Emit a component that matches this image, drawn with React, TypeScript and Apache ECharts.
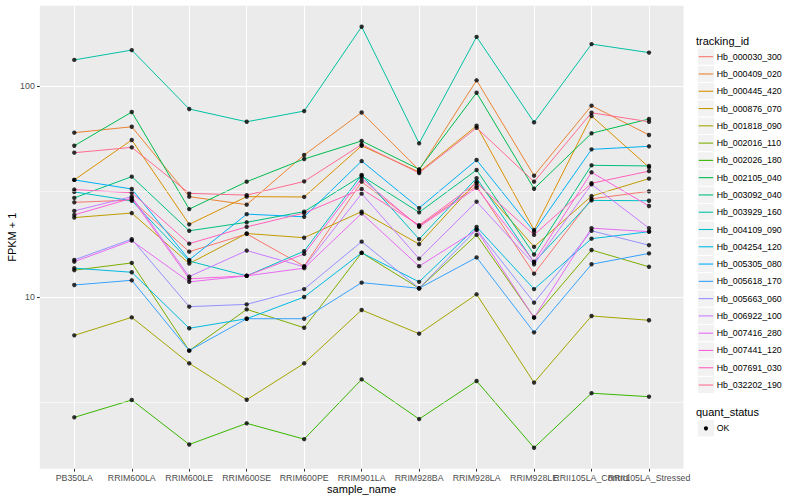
import React, { useEffect, useRef } from "react";
import * as echarts from "echarts";

const sampleNames = [
  "PB350LA", "RRIM600LA", "RRIM600LE", "RRIM600SE", "RRIM600PE", "RRIM901LA",
  "RRIM928BA", "RRIM928LA", "RRIM928LE", "RRII105LA_Control", "RRII105LA_Stressed",
];

const trackingIds = [
  "Hb_000030_300", "Hb_000409_020", "Hb_000445_420", "Hb_000876_070", "Hb_001818_090",
  "Hb_002016_110", "Hb_002026_180", "Hb_002105_040", "Hb_003092_040", "Hb_003929_160",
  "Hb_004109_090", "Hb_004254_120", "Hb_005305_080", "Hb_005618_170", "Hb_005663_060",
  "Hb_006922_100", "Hb_007416_280", "Hb_007441_120", "Hb_007691_030", "Hb_032202_190",
];

const lineColors = [
  "#F8766D", "#EA8331", "#D89000", "#C09B00", "#A3A500", "#7CAE00", "#39B600", "#00BB4E",
  "#00BF7D", "#00C1A3", "#00BFC4", "#00BAE0", "#00B0F6", "#35A2FF", "#9590FF", "#C77CFF",
  "#E76BF3", "#FA62DB", "#FF62BC", "#FF6C91",
];

// FPKM + 1 per sample, in the order of sampleNames
const hb000030_300 = [28.1, 28.8, 16.4, 19.9, 14.0, 35.2, 21.7, 33.6, 12.9, 29.2, 31.7];
const hb000409_020 = [60.1, 64.1, 29.9, 27.4, 47.1, 74.9, 40.0, 106.4, 37.6, 80.7, 58.6];
const hb000445_420 = [35.9, 55.5, 22.1, 29.9, 29.8, 52.1, 39.1, 64.8, 20.8, 72.1, 41.2];
const hb000876_070 = [23.8, 25.0, 14.4, 20.0, 19.1, 25.4, 17.8, 35.2, 17.3, 30.1, 36.4];
const hb001818_090 = [6.58, 8.01, 4.85, 3.26, 4.85, 8.68, 6.7, 10.3, 3.93, 8.13, 7.76];
const hb002016_110 = [13.4, 14.5, 5.57, 8.74, 7.15, 16.2, 11.0, 19.7, 8.0, 16.7, 13.9];
const hb002026_180 = [2.69, 3.25, 2.0, 2.52, 2.12, 4.07, 2.64, 4.0, 1.93, 3.5, 3.37];
const hb002105_040 = [52.1, 75.3, 26.1, 35.2, 45.1, 54.9, 40.3, 92.9, 32.6, 59.7, 69.8];
const hb003092_040 = [29.5, 37.2, 20.6, 22.6, 25.4, 37.5, 25.2, 40.0, 15.9, 42.1, 41.8];
const hb003929_160 = [133, 148, 77.8, 67.7, 76.1, 191, 53.5, 171, 67.3, 158, 144];
const hb004109_090 = [31.5, 28.6, 14.8, 12.6, 16.5, 37.9, 18.8, 36.6, 14.6, 28.7, 28.6];
const hb004254_120 = [13.7, 13.1, 7.11, 7.89, 10.0, 16.2, 11.8, 21.5, 10.9, 18.9, 20.4];
const hb005305_080 = [35.9, 32.5, 15.0, 24.7, 24.0, 44.1, 26.4, 44.6, 20.4, 50.1, 51.8];
const hb005618_170 = [11.4, 12.0, 5.57, 7.89, 7.89, 11.7, 11.0, 15.4, 6.8, 14.3, 16.1];
const hb005663_060 = [15.0, 18.8, 9.0, 9.23, 10.9, 18.3, 11.0, 20.9, 9.4, 20.6, 17.6];
const hb006922_100 = [25.6, 29.9, 12.5, 16.6, 13.9, 30.9, 15.2, 28.3, 14.3, 34.2, 21.2];
const hb007416_280 = [14.7, 18.5, 11.8, 12.6, 13.7, 24.9, 14.0, 20.8, 7.98, 21.2, 20.4];
const hb007441_120 = [24.5, 29.4, 12.2, 12.6, 16.0, 36.5, 21.5, 32.9, 14.7, 39.0, 27.0];
const hb007691_030 = [32.3, 31.2, 17.9, 21.5, 25.0, 32.5, 21.9, 34.7, 19.7, 34.6, 39.5];
const hb032202_190 = [48.3, 51.2, 31.0, 30.4, 35.3, 52.8, 38.7, 63.4, 35.2, 74.7, 67.7];

const seriesValues = [
  hb000030_300, hb000409_020, hb000445_420, hb000876_070, hb001818_090,
  hb002016_110, hb002026_180, hb002105_040, hb003092_040, hb003929_160,
  hb004109_090, hb004254_120, hb005305_080, hb005618_170, hb005663_060,
  hb006922_100, hb007416_280, hb007441_120, hb007691_030, hb032202_190,
];

const quantStatus = ["OK"];
const yMajorBreaks = [10, 100];
const yMinorBreaks = [3.1623, 31.623];

const FONT = "'Liberation Sans', Arial, Helvetica, sans-serif";

export default function App() {
  const ref = useRef<HTMLDivElement>(null);

  useEffect(() => {
    if (!ref.current) return;
    const chart = echarts.init(ref.current, null, { renderer: "svg" });

    const panelLeft = 39.8;
    const panelTop = 5.65;
    const panelWidth = 643.7;
    const panelHeight = 463.15;

    const allIdx = sampleNames.map((_, i) => i);
    const evenIdx = allIdx.filter((i) => i % 2 === 0);
    const oddIdx = allIdx.filter((i) => i % 2 === 1);

    const lineSeries: any[] = trackingIds.map((id, k) => ({
      type: "line",
      name: id,
      xAxisIndex: 0,
      data: seriesValues[k].map((v, i) => [i, v]),
      showSymbol: false,
      symbol: "none",
      lineStyle: { color: lineColors[k], width: 1 },
      itemStyle: { color: lineColors[k] },
      z: 2,
      silent: true,
    }));

    const pointData: number[][] = [];
    seriesValues.forEach((vals) => vals.forEach((v, i) => pointData.push([i, v])));

    const legendItems: any[] = [];
    const keyX = 697.3;
    const keySize = 17.28;
    const keyTop0 = 48.06;
    legendItems.push({
      type: "text",
      x: 696,
      y: 40.7,
      style: { text: "tracking_id", fontSize: 11, fontFamily: FONT, fill: "#000000", align: "left", verticalAlign: "middle" },
    });
    trackingIds.forEach((id, k) => {
      const top = keyTop0 + k * keySize;
      legendItems.push({
        type: "rect",
        shape: { x: keyX, y: top, width: keySize, height: keySize },
        style: { fill: "#F2F2F2", stroke: "#FFFFFF", lineWidth: 1 },
      });
      legendItems.push({
        type: "line",
        shape: { x1: keyX + 1.4, y1: top + keySize / 2, x2: keyX + keySize - 1.4, y2: top + keySize / 2 },
        style: { stroke: lineColors[k], lineWidth: 1.1 },
      });
      legendItems.push({
        type: "text",
        x: 716.7,
        y: top + keySize / 2,
        style: { text: id, fontSize: 8.8, fontFamily: FONT, fill: "#000000", align: "left", verticalAlign: "middle" },
      });
    });
    legendItems.push({
      type: "text",
      x: 696,
      y: 412.3,
      style: { text: "quant_status", fontSize: 11, fontFamily: FONT, fill: "#000000", align: "left", verticalAlign: "middle" },
    });
    quantStatus.forEach((q, k) => {
      const top = 419.7 + k * keySize;
      legendItems.push({
        type: "rect",
        shape: { x: keyX, y: top, width: keySize, height: keySize },
        style: { fill: "#F2F2F2", stroke: "#FFFFFF", lineWidth: 1 },
      });
      legendItems.push({
        type: "circle",
        shape: { cx: keyX + keySize / 2, cy: top + keySize / 2, r: 2.1 },
        style: { fill: "#000000" },
      });
      legendItems.push({
        type: "text",
        x: 716.7,
        y: top + keySize / 2,
        style: { text: q, fontSize: 8.8, fontFamily: FONT, fill: "#000000", align: "left", verticalAlign: "middle" },
      });
    });

    const labelStyle = {
      formatter: (v: number) => sampleNames[Math.round(v)] ?? "",
      color: "#4D4D4D",
      fontSize: 8.8,
      fontFamily: FONT,
      margin: 5,
      hideOverlap: false,
    };

    const option: any = {
      animation: false,
      backgroundColor: "#FFFFFF",
      textStyle: { fontFamily: FONT },
      grid: {
        left: panelLeft,
        top: panelTop,
        width: panelWidth,
        height: panelHeight,
        show: true,
        backgroundColor: "#EBEBEB",
        borderWidth: 0,
        containLabel: false,
        outerBoundsMode: "none",
      },
      xAxis: [
        {
          type: "value",
          position: "bottom",
          min: -0.6,
          max: 10.6,
          axisLine: { show: false, onZero: false },
          axisTick: {
            show: true,
            length: 2.75,
            lineStyle: { color: "#333333", width: 1 },
            customValues: allIdx,
          },
          axisLabel: { ...labelStyle, customValues: evenIdx },
          splitLine: { show: true, lineStyle: { color: "#FFFFFF", width: 1.1 } },
          name: "sample_name",
          nameLocation: "middle",
          nameGap: 15,
          nameMoveOverlap: false,
          nameTextStyle: { fontSize: 11, color: "#000000", fontFamily: FONT },
        },
        {
          type: "value",
          position: "bottom",
          offset: 0,
          min: -0.6,
          max: 10.6,
          axisLine: { show: false, onZero: false },
          axisTick: { show: false, customValues: oddIdx },
          axisLabel: { ...labelStyle, customValues: oddIdx },
          splitLine: { show: false },
        },
      ],
      yAxis: {
        type: "log",
        logBase: 10,
        min: 1.534,
        max: 240.4,
        axisLine: { show: false, onZero: false },
        axisTick: {
          show: true,
          length: 2.75,
          lineStyle: { color: "#333333", width: 1 },
          customValues: yMajorBreaks,
        },
        axisLabel: {
          customValues: yMajorBreaks,
          formatter: (v: number) => String(Math.round(v)),
          color: "#4D4D4D",
          fontSize: 8.8,
          fontFamily: FONT,
          margin: 5,
        },
        splitLine: { show: true, lineStyle: { color: "#FFFFFF", width: 1.1 } },
        name: "FPKM + 1",
        nameLocation: "middle",
        nameGap: 22,
        nameRotate: 90,
        nameMoveOverlap: false,
        nameTextStyle: { fontSize: 11, color: "#000000", fontFamily: FONT },
      },
      series: [
        {
          type: "line",
          name: "minor-grid",
          xAxisIndex: 0,
          data: [],
          z: 1,
          silent: true,
          markLine: {
            silent: true,
            symbol: ["none", "none"],
            label: { show: false },
            lineStyle: { color: "#FFFFFF", width: 0.55, type: "solid" },
            emphasis: { disabled: true },
            data: yMinorBreaks.map((v) => ({ yAxis: v })),
          },
        },
        ...lineSeries,
        {
          type: "scatter",
          name: quantStatus[0],
          xAxisIndex: 0,
          data: pointData,
          symbol: "circle",
          symbolSize: 4.4,
          itemStyle: { color: "#000000" },
          z: 3,
          silent: true,
        },
      ],
      graphic: legendItems,
    };

    chart.setOption(option);
    return () => chart.dispose();
  }, []);

  return (
    <div
      ref={ref}
      style={{ position: "fixed", left: 0, top: 0, width: 800, height: 500 }}
    />
  );
}
